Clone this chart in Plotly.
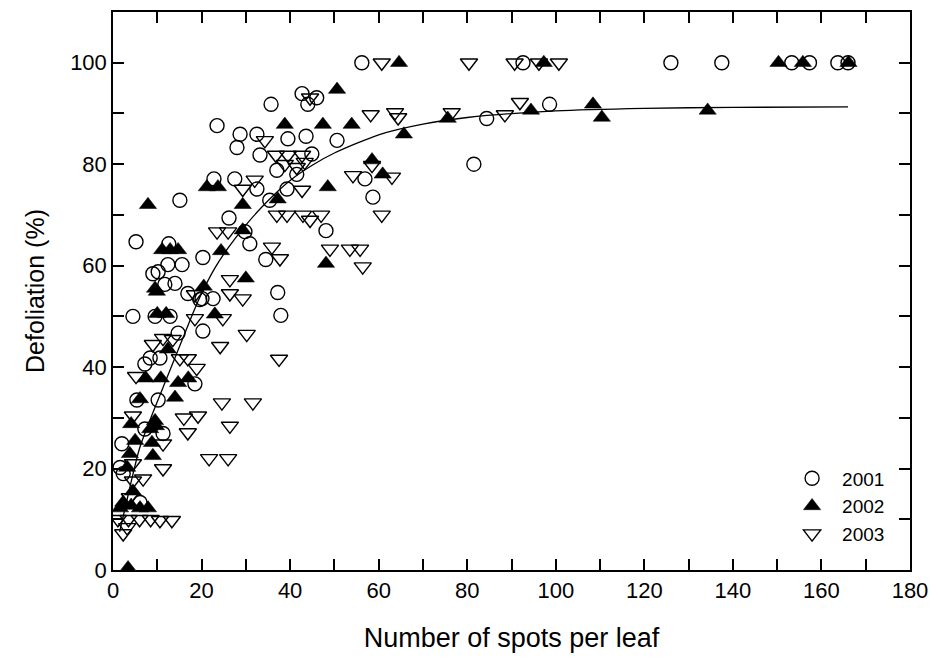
import plotly.graph_objects as go

# ---------------- data ----------------
x2001 = [56.2, 92.6, 126, 137.5, 153.3, 157.3, 163.7, 166,
         84.4, 98.6, 81.5,
         42.7, 46, 44, 35.7, 23.5,
         28.7, 32.5, 28, 33.2, 39.5, 43.6, 50.6, 44.9,
         37, 41.5, 56.9, 58.7,
         22.8, 27.5, 32.5, 39.3, 35.4,
         48.1, 26.2, 29.8, 30.9, 20.3, 34.5,
         22.6, 20.1, 37.2, 37.9, 20.3,
         15.1, 5.2, 12.6, 10.2, 9, 12.4, 15.6, 11.7, 14, 16.9, 19.6,
         4.5, 9.5, 12.9, 14.7, 8.4, 10.6, 7.2, 18.5, 5.4, 10.2, 7.2, 2, 11.3, 1.6, 2.3, 6.1]
y2001 = [100, 100, 100, 100, 100, 100, 100, 100,
         89, 91.8, 80,
         93.9, 93.1, 91.8, 91.8, 87.6,
         85.9, 85.9, 83.3, 81.8, 85, 85.5, 84.7, 82,
         78.8, 78, 77.1, 73.5,
         77.1, 77.1, 75.1, 75.1, 72.9,
         66.9, 69.4, 66.7, 64.3, 61.6, 61.2,
         53.5, 53.5, 54.7, 50.2, 47.1,
         72.9, 64.7, 64.3, 58.8, 58.4, 60.2, 60.2, 56.3, 56.5, 54.5, 53.3,
         50, 50, 50, 46.7, 41.8, 41.8, 40.6, 36.7, 33.5, 33.5, 27.8, 24.9, 26.9, 20.2, 19, 13.3]

x2002 = [64.6, 97.3, 150.3, 155.8, 166.1,
         65.7, 75.6, 94.4, 108.4, 110.4, 60.9, 134.3,
         50.6, 38.8, 47.4, 53.9, 58.5,
         21.2, 23.7, 48.5, 29.3, 37.2, 29.3, 24.4, 48.1, 20.5, 30, 23,
         7.9, 11.1, 12.9, 14.7, 9.5, 9.9,
         10, 12, 12.4, 7.4, 10.8, 14.7, 17, 6.1, 14, 4.1, 9.5, 8.4, 9.7,
         5, 8.8, 3.8, 9, 3.2, 4.5, 2.3, 1.6, 4.1, 6.1, 7.9, 3.4]
y2002 = [100, 100, 100, 100, 100,
         85.9, 89, 90.6, 91.8, 89.2, 78, 90.6,
         94.7, 87.8, 87.8, 87.8, 80.8,
         75.5, 75.5, 75.5, 72, 73.1, 67, 62.9, 60.4, 55.9, 57.5, 50.4,
         72, 63.1, 63.1, 63.1, 55.5, 54.9,
         50.5, 50.5, 43.5, 37.8, 37.8, 36.9, 37.8, 33.7, 34, 28.8, 29.4, 27.8, 28.4,
         25.5, 25.1, 22.9, 22.5, 20.2, 15.5, 13.3, 12.2, 12.7, 12.2, 12.2, 0.4]

x2003 = [60.7, 80.4, 90.7, 96.2, 100.7,
         63.7, 64.4, 76.5, 88.5, 91.9, 63,
         44.5, 58.2, 34.3,
         36.8, 39.5, 42.7, 38.8, 41.5, 43.3,
         58.5, 54.2, 60.7,
         32, 29.3, 42.7,
         37, 39.3, 42.9, 44.5, 47,
         23.5, 26, 35.9, 37.7, 49, 53.5, 55.8, 56.4,
         26.4, 26.4, 29.3, 24.8, 30.2, 37.5, 18.5, 24.2, 18.9, 24.6, 31.6,
         19.2, 16, 26.4, 16.9, 21.7, 26, 18.5,
         9, 11.3, 13.5, 15.1, 16.9, 5.2, 4.5, 11.3, 11.3, 4.5, 6.8, 3.8, 4.5,
         1.1, 3.5, 6, 8.5, 10.6, 13.3, 2.3, 3.2]
y2003 = [100, 100, 100, 100, 100,
         90.2, 89.2, 90.2, 89.8, 92.2, 77.5,
         93.1, 89.8, 84.7,
         81.8, 81.8, 81.8, 80, 79.4, 80.4,
         79.8, 77.8, 70,
         76.9, 75.1, 74.9,
         70, 70, 70, 69, 70,
         66.7, 66.7, 63.7, 61.4, 63.3, 63.3, 63.3, 59.8,
         57.3, 54.5, 53.5, 49.6, 46.5, 41.6, 49.6, 44.1, 39.8, 33, 33,
         30.4, 30, 28.4, 27.1, 22, 22, 54.3,
         44.5, 45.7, 45.5, 41.7, 41.7, 38.2, 30.4, 24.9, 20, 21, 18, 14.3, 17.6,
         10, 10, 10, 10, 9.8, 9.8, 7.2, 8.4]

# fitted curve
fit_x = [1.5, 4, 6, 9, 12, 15, 18, 20, 23, 26, 30, 35, 40, 45, 50, 60, 70, 80, 100, 120, 140, 166]
fit_y = [7.5, 17, 24, 31, 37.5, 44, 50.5, 54.5, 59.5, 63.5, 68, 72.8, 76.8, 79.8, 82.2, 85.8,
         87.9, 89.2, 90.5, 91, 91.2, 91.3]

x_tick_vals = list(range(0, 181, 10))
x_tick_text = ["0", "", "20", "", "40", "", "60", "", "80", "", "100", "", "120", "", "140", "", "160", "", "180"]
y_tick_vals = list(range(0, 101, 10))
y_tick_text = ["0", "", "20", "", "40", "", "60", "", "80", "", "100"]

FONT = "Arial, Liberation Sans, sans-serif"

fig = go.Figure()
fig.add_trace(go.Scatter(x=fit_x, y=fit_y, mode="lines", showlegend=False, hoverinfo="skip",
                         line=dict(color="black", width=1.3, shape="spline", smoothing=0.7)))
fig.add_trace(go.Scatter(x=x2001, y=y2001, mode="markers", name="2001",
                         marker=dict(symbol="circle-open", size=14, color="black",
                                     line=dict(width=1.4, color="black"))))
fig.add_trace(go.Scatter(x=x2002, y=y2002, mode="markers", name="2002",
                         marker=dict(symbol="triangle-up", size=15, color="black",
                                     line=dict(width=0.5, color="black"))))
fig.add_trace(go.Scatter(x=x2003, y=y2003, mode="markers", name="2003",
                         marker=dict(symbol="triangle-down-open", size=15, color="black",
                                     line=dict(width=1.4, color="black"))))

axis_common = dict(showline=True, linecolor="black", linewidth=1.5, mirror="ticks",
                   ticks="inside", ticklen=11, tickwidth=1.5, tickcolor="black",
                   showgrid=False, zeroline=False,
                   tickfont=dict(family=FONT, size=22, color="black"))

fig.update_layout(
    width=938, height=664,
    margin=dict(l=113, r=28, t=10, b=94),
    paper_bgcolor="white", plot_bgcolor="white",
    font=dict(family=FONT, color="black"),
    xaxis=dict(range=[0, 180], tickmode="array", tickvals=x_tick_vals, ticktext=x_tick_text,
               title=dict(text="Number of spots per leaf", font=dict(family=FONT, size=27), standoff=26),
               **axis_common),
    yaxis=dict(range=[0, 110], tickmode="array", tickvals=y_tick_vals, ticktext=y_tick_text,
               title=dict(text="Defoliation (%)", font=dict(family=FONT, size=25), standoff=18),
               **axis_common),
    legend=dict(x=0.975, y=0.114, xanchor="right", yanchor="middle", itemwidth=50,
                bgcolor="rgba(0,0,0,0)", borderwidth=0,
                font=dict(family=FONT, size=19, color="black")),
    showlegend=True,
)

fig.write_html("out.html")
